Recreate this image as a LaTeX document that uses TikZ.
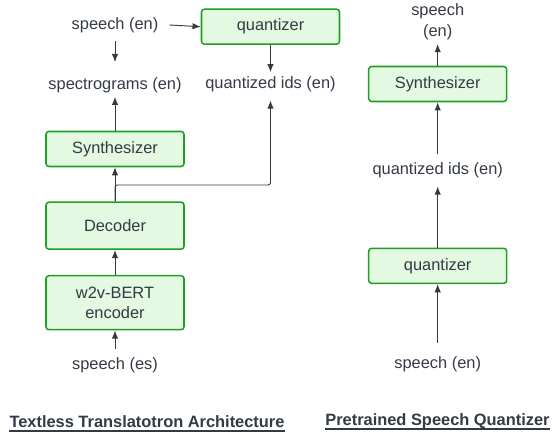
\documentclass[tikz,border=0pt]{standalone}
\usepackage{fontspec}
\setmainfont{Liberation Sans}
\usetikzlibrary{arrows.meta,positioning}
\definecolor{boxline}{HTML}{1E9E22}
\definecolor{boxfill}{HTML}{E3F9E1}
\definecolor{ink}{HTML}{343A44}
\tikzset{
block/.style={draw=boxline, fill=boxfill, line width=1.3pt, rounded corners=2.5pt,
  minimum width=4.14cm, minimum height=1.05cm, align=center, text=ink},
lbl/.style={text=ink, align=center},
title/.style={text=ink, font=\fontsize{14}{17.5}\selectfont\bfseries, inner sep=0pt},
uline/.style={draw=ink, line width=1.5pt},
flow/.style={-{Latex[length=7pt,width=5.5pt]}, draw=ink, line width=0.8pt},
}
\begin{document}
\begin{tikzpicture}[x=0.03cm, y=-0.03cm, font=\fontsize{14}{17.5}\selectfont]
        \useasboundingbox (0,0) rectangle (554,433);
        % Textless Translatotron
        \node[lbl] (src) at (115,25) {speech (en)};
        \node[block] (qz) at (270.5,26.7) {quantizer};
        \node[lbl] (spec) at (115,85) {spectrograms (en)};
        \node[lbl] (ids) at (270.5,84) {quantized ids (en)};
        \node[block] (syn) at (115,149) {Synthesizer};
        \node[block, minimum height=1.41cm] (dec) at (115,225.7) {Decoder};
        \node[block, minimum height=1.62cm] (enc) at (115,302.7) {w2v-BERT\\encoder};
        \node[lbl] (es) at (115,365) {speech (es)};
        \coordinate (split) at (115,185);
        \node[title] (t1) at (147,421.5) {Textless Translatotron Architecture};
        \draw[uline] ([yshift=-3pt]t1.base west) -- ([yshift=-3pt]t1.base east);
        \draw[flow] (src.east) ++(6pt,0) -- (qz.west);
        \draw[flow] (src.south) ++(0,-4pt) -- ++(0,-0.62cm);
        \draw[flow] (qz) -- (ids);
        \draw[flow] (syn) -- (spec);
        \draw[flow] (dec) -- (syn);
        \draw[flow, rounded corners=2pt] (dec.north) -- (split) -| ([yshift=-4pt]ids.south);
        \draw[flow] (enc) -- (dec);
        \draw[flow] ([yshift=4pt]es.north) -- (enc);
        % Pretrained quantizer
        \node[lbl] (out) at (437.7,22) {speech\\(en)};
        \node[block] (syn2) at (437.7,84) {Synthesizer};
        \node[lbl] (ids2) at (437.7,170) {quantized ids (en)};
        \node[block] (qz2) at (437.7,265.8) {quantizer};
        \node[lbl] (in) at (437.7,364) {speech (en)};
        \node[title] (t2) at (437.5,421.5) {Pretrained Speech Quantizer};
        \draw[uline] ([yshift=-3pt]t2.base west) -- ([yshift=-3pt]t2.base east);
        \draw[flow] (syn2) -- (out);
        \draw[flow] ([yshift=4pt]ids2.north) -- (syn2);
        \draw[flow] (qz2) -- ([yshift=-4pt]ids2.south);
        \draw[flow] ([yshift=8pt]in.north) -- (qz2);
\end{tikzpicture}
\end{document}
